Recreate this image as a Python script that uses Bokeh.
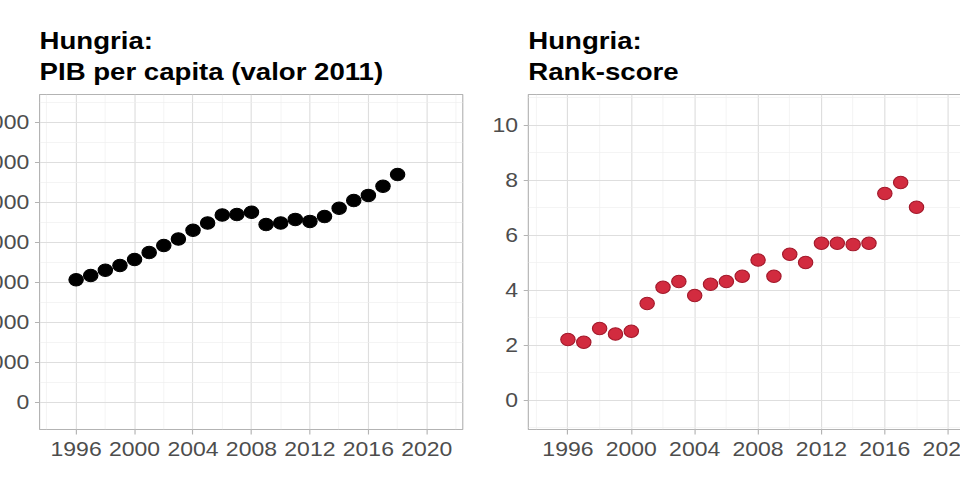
from bokeh.plotting import figure
from bokeh.layouts import row
from bokeh.models import Range1d, FixedTicker
from bokeh.embed import file_html
from bokeh.resources import INLINE

years = list(range(1996, 2019))
pib = [15300, 15850, 16500, 17100, 17850, 18700, 19600, 20400, 21500, 22400,
       23400, 23450, 23750, 22200, 22400, 22850, 22600, 23200, 24250, 25200,
       25850, 27000, 28450]
rank_score = [2.21, 2.11, 2.61, 2.41, 2.51, 3.52, 4.11, 4.32, 3.81, 4.22, 4.32,
              4.51, 5.10, 4.51, 5.31, 5.01, 5.71, 5.71, 5.66, 5.71, 7.52, 7.92, 7.02]

x_ticks = [1996, 2000, 2004, 2008, 2012, 2016, 2020]
x_minor = [1994, 1998, 2002, 2006, 2010, 2014, 2018, 2022]
pib_ticks = [0, 5000, 10000, 15000, 20000, 25000, 30000, 35000]
pib_minor = [2500, 7500, 12500, 17500, 22500, 27500, 32500, 37500]
rank_ticks = [0, 2, 4, 6, 8, 10]
rank_minor = [-1, 1, 3, 5, 7, 9, 11]

FONT = "Liberation Sans"
STRETCH = 1.15


def style(p, xt, xm, yt, ym):
    p.title.text_font = FONT
    p.title.text_font_size = "24px"
    p.title.text_font_style = "bold"
    p.title.text_color = "#000000"
    p.title.text_line_height = 1.15
    p.title.align = "left"
    p.title.offset = 0
    p.title.standoff = 18
    p.outline_line_color = "#B3B3B3"
    p.outline_line_width = 1
    p.xaxis.ticker = FixedTicker(ticks=xt, minor_ticks=xm)
    p.yaxis.ticker = FixedTicker(ticks=yt, minor_ticks=ym)
    for ax in (p.xaxis, p.yaxis):
        ax.axis_line_color = None
        ax.major_tick_line_color = "#B3B3B3"
        ax.major_tick_in = 0
        ax.minor_tick_line_color = None
        ax.major_label_text_font = FONT
        ax.major_label_text_font_size = "20px"
        ax.major_label_text_color = "#4D4D4D"
    p.xaxis.major_tick_out = 5
    p.yaxis.major_tick_out = 4
    p.xaxis.major_label_standoff = 8
    p.yaxis.major_label_standoff = 5
    for g in (p.xgrid, p.ygrid):
        g.grid_line_color = "#DEDEDE"
        g.grid_line_width = 1
        g.minor_grid_line_color = "#EEEEEE"
        g.minor_grid_line_width = 0.6
    p.background_fill_color = "white"
    p.border_fill_color = "white"


p1 = figure(width=404, height=486, output_backend="svg", toolbar_location=None,
            title="Hungria:\nPIB per capita (valor 2011)",
            x_range=Range1d(1993.5, 2022.46), y_range=Range1d(-3410, 38460),
            min_border_left=80, min_border_right=16, min_border_top=94,
            min_border_bottom=57)
style(p1, x_ticks, x_minor, pib_ticks, pib_minor)
p1.scatter(years, pib, size=12.5, fill_color="#000000", line_color="#000000")

p2 = figure(width=382, height=486, output_backend="svg", toolbar_location=None,
            title="Hungria:\nRank-score",
            x_range=Range1d(1993.5, 2022.46), y_range=Range1d(-1.065, 11.12),
            min_border_left=40, min_border_right=0, min_border_top=94,
            min_border_bottom=57)
style(p2, x_ticks, x_minor, rank_ticks, rank_minor)
p2.scatter(years, rank_score, size=12.5, fill_color="#D22B3F", line_color="#A3192B",
           line_width=1)

layout = row(p1, p2, spacing=61)
layout.styles = {
    "margin-left": "-53.5px",
    "transform": "scaleX(%s)" % STRETCH,
    "transform-origin": "0 0",
}

html = file_html(layout, INLINE)
html = html.replace("<body>", '<body style="overflow:hidden">', 1)
open("out.html", "w").write(html)
